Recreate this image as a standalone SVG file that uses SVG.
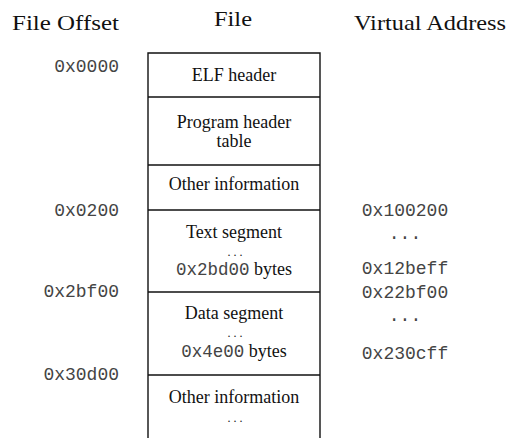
<svg xmlns="http://www.w3.org/2000/svg" width="521" height="438" viewBox="0 0 521 438">
<style>
.h{font-family:"Liberation Serif","Times New Roman",serif;font-size:22px;fill:#111}
.t{font-family:"Liberation Serif","Times New Roman",serif;font-size:18px;fill:#111;text-anchor:middle}
.m{font-family:"Liberation Mono","Courier New",monospace;font-size:18px;fill:#444}
.mr{text-anchor:end}
.mc{text-anchor:middle}
.ln{stroke:#111;stroke-width:1.4;fill:none}
.d{font-family:"Liberation Serif","Times New Roman",serif;font-size:12px;fill:#111;text-anchor:middle}
</style>
<rect width="521" height="438" fill="#fff"/>
<g id="headings">
<text class="h" x="12" y="30" textLength="107" lengthAdjust="spacingAndGlyphs">File Offset</text>
<text class="h" x="214" y="26" textLength="38" lengthAdjust="spacingAndGlyphs">File</text>
<text class="h" x="354" y="30" textLength="152" lengthAdjust="spacingAndGlyphs">Virtual Address</text>
</g>
<g id="connectors">
<path class="ln" d="M148,438 V53 H320 V438"/>
</g>
<g id="elf-header">
<line class="ln" x1="148" y1="97" x2="320" y2="97"/>
<text class="t" x="234" y="81">ELF header</text>
</g>
<g id="program-header-table">
<line class="ln" x1="148" y1="165" x2="320" y2="165"/>
<text class="t" x="234" y="128">Program header</text>
<text class="t" x="234" y="147">table</text>
</g>
<g id="other-information-1">
<line class="ln" x1="148" y1="210" x2="320" y2="210"/>
<text class="t" x="234" y="190">Other information</text>
</g>
<g id="text-segment">
<line class="ln" x1="148" y1="292" x2="320" y2="292"/>
<text class="t" x="234" y="238">Text segment</text>
<text class="d" x="235" y="256">. . .</text>
<text class="t" x="234" y="275"><tspan font-family="Liberation Mono, Courier New, monospace" font-size="17.5" fill="#444">0x2bd00</tspan> bytes</text>
</g>
<g id="data-segment">
<line class="ln" x1="148" y1="375" x2="320" y2="375"/>
<text class="t" x="234" y="319">Data segment</text>
<text class="d" x="235" y="337">. . .</text>
<text class="t" x="234" y="357"><tspan font-family="Liberation Mono, Courier New, monospace" font-size="17.5" fill="#444">0x4e00</tspan> bytes</text>
</g>
<g id="other-information-2">
<text class="t" x="234" y="403">Other information</text>
<text class="d" x="235" y="422">. . .</text>
</g>
<g id="file-offsets">
<text class="m mr" x="119" y="72">0x0000</text>
<text class="m mr" x="119" y="216">0x0200</text>
<text class="m mr" x="119" y="297">0x2bf00</text>
<text class="m mr" x="119" y="380">0x30d00</text>
</g>
<g id="virtual-addresses">
<text class="m mc" x="405" y="216">0x100200</text>
<text class="m mc" x="405" y="239">...</text>
<text class="m mc" x="405" y="274">0x12beff</text>
<text class="m mc" x="405" y="298">0x22bf00</text>
<text class="m mc" x="405" y="321">...</text>
<text class="m mc" x="405" y="359">0x230cff</text>
</g>
</svg>
